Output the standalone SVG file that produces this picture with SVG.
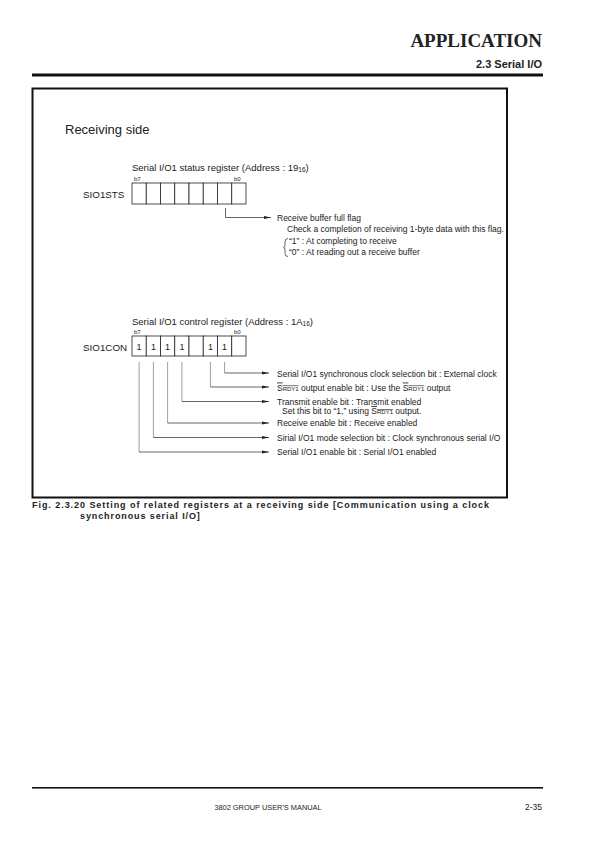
<svg xmlns="http://www.w3.org/2000/svg" width="595" height="842" viewBox="0 0 595 842">
<style>
text{font-family:"Liberation Sans",Arial,sans-serif;fill:#222}
.lbl{font-size:8.5px}
.tiny{font-size:6px}
.ttl{font-size:9.5px}
.reg{font-size:9.8px}
.one{font-size:9px}
.cell{fill:#fff;stroke:#222;stroke-width:0.8}
.ln{fill:none;stroke:#222;stroke-width:0.7}
.vl{fill:none;stroke:#777;stroke-width:0.7}
</style>
<defs>
<marker id="ar" markerWidth="7" markerHeight="4" refX="7" refY="2" orient="auto" markerUnits="userSpaceOnUse">
<path d="M0,0.5 L7,2 L0,3.5 Z" fill="#222"/>
</marker>
</defs>
<rect width="595" height="842" fill="#fff"/>
<!-- header -->
<text x="542" y="47" text-anchor="end" style="font-family:'Liberation Serif','Times New Roman',serif;font-weight:bold;font-size:19px">APPLICATION</text>
<text x="542" y="68" text-anchor="end" style="font-weight:bold;font-size:11px">2.3 Serial I/O</text>
<rect x="32" y="73.5" width="511" height="3" fill="#111"/>
<!-- frame -->
<rect x="32.5" y="88.5" width="474.5" height="409" fill="none" stroke="#111" stroke-width="2"/>
<text x="65" y="134" style="font-size:13px">Receiving side</text>

<!-- status register -->
<g id="sio1sts">
<text x="132" y="171" class="ttl">Serial I/O1 status register (Address : 19<tspan font-size="6.5px" dy="1">16</tspan><tspan dy="-1">)</tspan></text>
<text x="134" y="180.5" class="tiny">b7</text>
<text x="234" y="180.5" class="tiny">b0</text>
<text x="83" y="198" class="reg">SIO1STS</text>
<rect class="cell" x="132" y="183" width="14.25" height="21"/>
<rect class="cell" x="146.25" y="183" width="14.25" height="21"/>
<rect class="cell" x="160.5" y="183" width="14.25" height="21"/>
<rect class="cell" x="174.75" y="183" width="14.25" height="21"/>
<rect class="cell" x="189" y="183" width="14.25" height="21"/>
<rect class="cell" x="203.25" y="183" width="14.25" height="21"/>
<rect class="cell" x="217.5" y="183" width="14.25" height="21"/>
<rect class="cell" x="231.75" y="183" width="14.25" height="21"/>
</g>
<g id="sts-labels">
<text x="277" y="221" class="lbl">Receive buffer full flag</text>
<text x="287" y="232" class="lbl">Check a completion of receiving 1-byte data with this flag.</text>
<text x="289" y="243.5" class="lbl">“1” : At completing to receive</text>
<text x="289" y="255" class="lbl">“0” : At reading out a receive buffer</text>
<path class="ln" d="M288,238.5 Q285,238.5 285,242 L285,245 Q285,247.5 283.5,247.5 Q285,247.5 285,250 L285,253.5 Q285,256.5 288,256.5"/>
</g>

<!-- control register -->
<g id="sio1con">
<text x="132" y="324.5" class="ttl">Serial I/O1 control register (Address : 1A<tspan font-size="6.5px" dy="1">16</tspan><tspan dy="-1">)</tspan></text>
<text x="134" y="334" class="tiny">b7</text>
<text x="234" y="334" class="tiny">b0</text>
<text x="83" y="351" class="reg">SIO1CON</text>
<rect class="cell" x="132" y="336" width="14.25" height="20"/>
<rect class="cell" x="146.25" y="336" width="14.25" height="20"/>
<rect class="cell" x="160.5" y="336" width="14.25" height="20"/>
<rect class="cell" x="174.75" y="336" width="14.25" height="20"/>
<rect class="cell" x="189" y="336" width="14.25" height="20"/>
<rect class="cell" x="203.25" y="336" width="14.25" height="20"/>
<rect class="cell" x="217.5" y="336" width="14.25" height="20"/>
<rect class="cell" x="231.75" y="336" width="14.25" height="20"/>
<g class="one" text-anchor="middle">
<text x="139.1" y="349.5">1</text>
<text x="153.4" y="349.5">1</text>
<text x="167.6" y="349.5">1</text>
<text x="181.9" y="349.5">1</text>
<text x="210.4" y="349.5">1</text>
<text x="224.6" y="349.5">1</text>
</g>
</g>
<g id="con-labels">
<text x="277" y="376.5" class="lbl">Serial I/O1 synchronous clock selection bit : External clock</text>
<text x="277" y="390.5" class="lbl"><tspan text-decoration="overline">S<tspan font-size="6px">RDY1</tspan></tspan> output enable bit : Use the <tspan text-decoration="overline">S<tspan font-size="6px">RDY1</tspan></tspan> output</text>
<text x="277" y="405" class="lbl">Transmit enable bit : Transmit enabled</text>
<text x="282" y="414" class="lbl">Set this bit to “1,” using <tspan text-decoration="overline">S<tspan font-size="6px">RDY1</tspan></tspan> output.</text>
<text x="277" y="425.5" class="lbl">Receive enable bit : Receive enabled</text>
<text x="277" y="440.5" class="lbl">Sirial I/O1 mode selection bit : Clock synchronous serial I/O</text>
<text x="277" y="455" class="lbl">Serial I/O1 enable bit : Serial I/O1 enabled</text>
</g>

<!-- connectors -->
<g id="connectors">
<path class="ln" d="M225.5,208 V217.5 H271" marker-end="url(#ar)"/>
<path class="vl" d="M224.6,362 V373"/><path class="ln" d="M224.6,373 H269" marker-end="url(#ar)"/>
<path class="vl" d="M210.4,362 V387"/><path class="ln" d="M210.4,387 H269" marker-end="url(#ar)"/>
<path class="vl" d="M181.9,362 V401.5"/><path class="ln" d="M181.9,401.5 H269" marker-end="url(#ar)"/>
<path class="vl" d="M167.6,362 V423"/><path class="ln" d="M167.6,423 H269" marker-end="url(#ar)"/>
<path class="vl" d="M153.4,362 V437.5"/><path class="ln" d="M153.4,437.5 H269" marker-end="url(#ar)"/>
<path class="vl" d="M139.1,362 V452"/><path class="ln" d="M139.1,452 H269" marker-end="url(#ar)"/>
</g>

<!-- caption -->
<text x="32" y="508" style="font-weight:bold;font-size:9px" textLength="457" lengthAdjust="spacing">Fig. 2.3.20 Setting of related registers at a receiving side [Communication using a clock</text>
<text x="80" y="519" style="font-weight:bold;font-size:9px" letter-spacing="0.9">synchronous serial I/O]</text>

<!-- footer -->
<rect x="32" y="787" width="511" height="1.6" fill="#111"/>
<text x="268" y="810" text-anchor="middle" style="font-size:7.4px">3802 GROUP USER'S MANUAL</text>
<text x="542" y="810" text-anchor="end" style="font-size:8.5px">2-35</text>
</svg>
